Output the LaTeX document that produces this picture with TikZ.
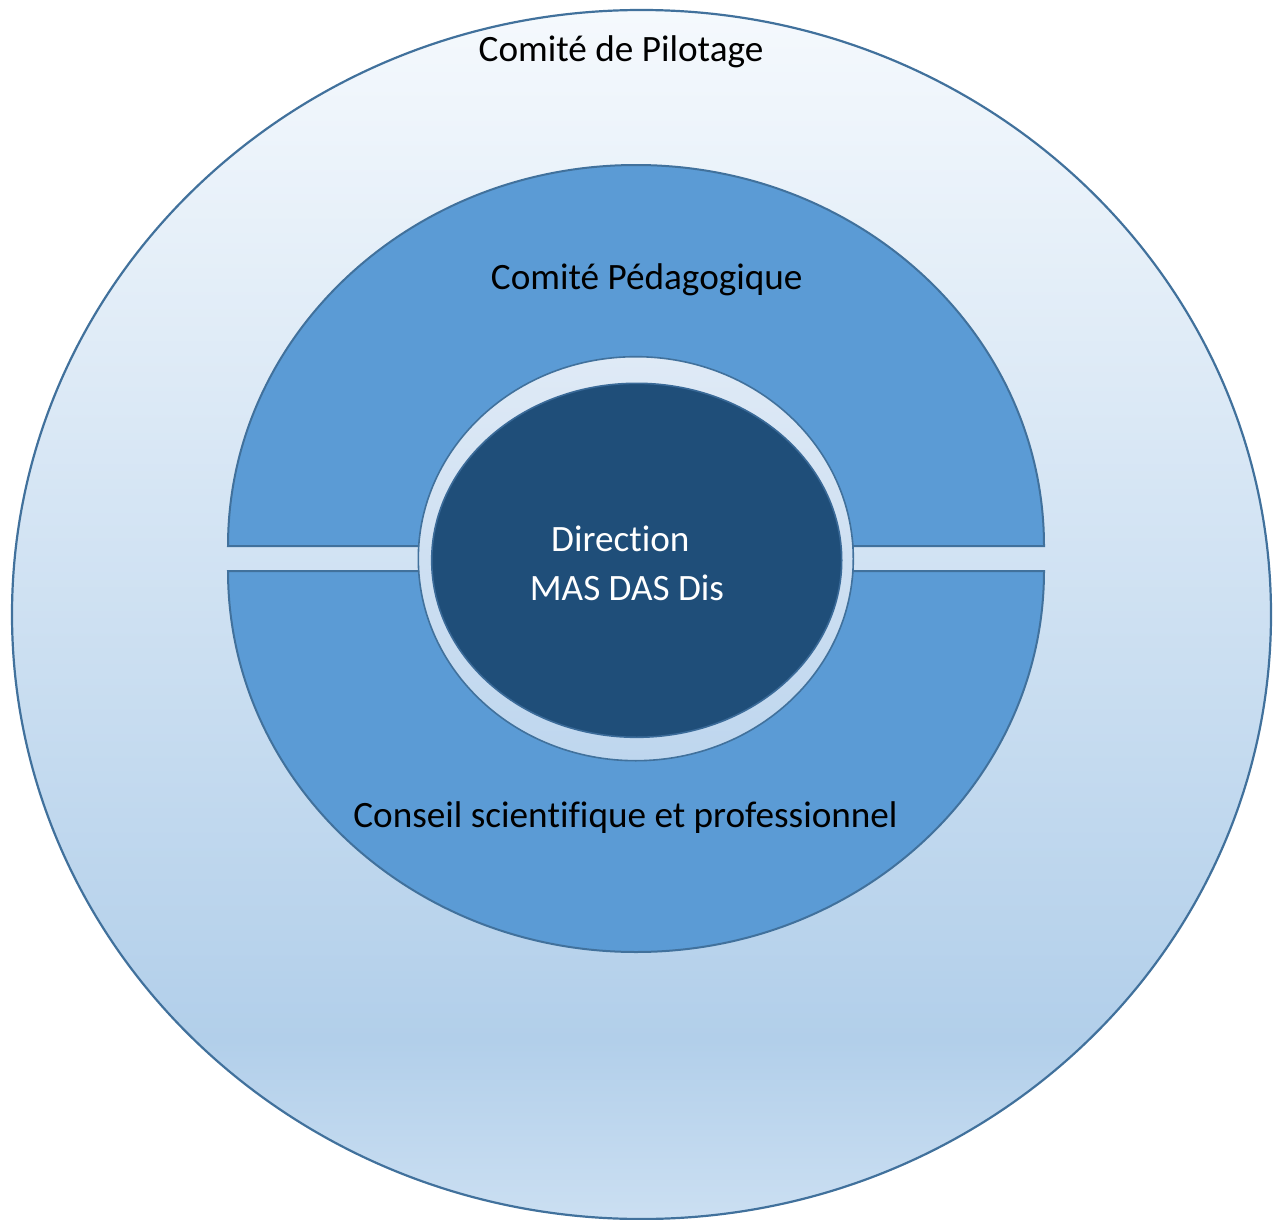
\documentclass[tikz,border=0pt]{standalone}
\usepackage{fontspec}
\setmainfont[Ligatures=NoCommon]{Carlito}
\newcommand{\nolig}{\kern0pt\relax}
\definecolor{edgeblue}{HTML}{41719C}
\definecolor{halffill}{HTML}{5B9BD5}
\definecolor{darkfill}{HTML}{1F4E79}
\definecolor{darkedge}{HTML}{3A6A98}
\definecolor{oTop}{HTML}{F5F9FD}
\definecolor{oMid}{HTML}{B2CFEA}
\definecolor{oBot}{HTML}{CBDFF2}
\definecolor{rTop}{HTML}{DFEAF6}
\definecolor{rBot}{HTML}{BED6EE}
\pgfdeclareverticalshading{outershade}{100bp}{color(0bp)=(oBot); color(25bp)=(oBot); color(32.4bp)=(oMid); color(75bp)=(oTop); color(100bp)=(oTop)}
\pgfdeclareverticalshading{ringshade}{100bp}{color(0bp)=(rBot); color(25bp)=(rBot); color(75bp)=(rTop); color(100bp)=(rTop)}
\tikzset{
  lbl/.style={font=\fontsize{37.2}{44}\selectfont, inner sep=0pt, anchor=base},
  halfdisc/.style={fill=halffill, draw=edgeblue, line width=2pt},
}
\begin{document}
\begin{tikzpicture}[x=1pt,y=-1pt]
\useasboundingbox (0,0) rectangle (1274,1220);
% outer ellipse
\shade[shading=outershade, draw=edgeblue, line width=2.2pt] (641.5,614.5) ellipse [x radius=629.5pt, y radius=604.5pt];
% half discs
\draw[halfdisc] (228,546) arc[start angle=180, end angle=0, x radius=408pt, y radius=381pt] -- cycle;
\draw[halfdisc] (228,571) arc[start angle=180, end angle=360, x radius=408pt, y radius=381pt] -- cycle;
% ring
\shade[shading=ringshade, draw=edgeblue, line width=1.6pt] (635.8,558.7) ellipse [x radius=217.5pt, y radius=202pt];
% dark centre
\draw[fill=darkfill, draw=darkedge, line width=1.6pt] (636.7,560.3) ellipse [x radius=205pt, y radius=177pt];
% labels
\node[lbl] (pilot) at (621,62) {Comité de Pilotage};
\node[lbl] (peda) at (646.7,289) {Comité Pédagogique};
\node[lbl] (conseil) at (625.5,827) {Conseil scien\nolig ti\nolig fique et professionnel};
\node[lbl, text=white] (dir) at (620.3,551) {Direc\nolig tion};
\node[lbl, text=white] (mas) at (627,600) {MAS DAS Dis};
\end{tikzpicture}
\end{document}
